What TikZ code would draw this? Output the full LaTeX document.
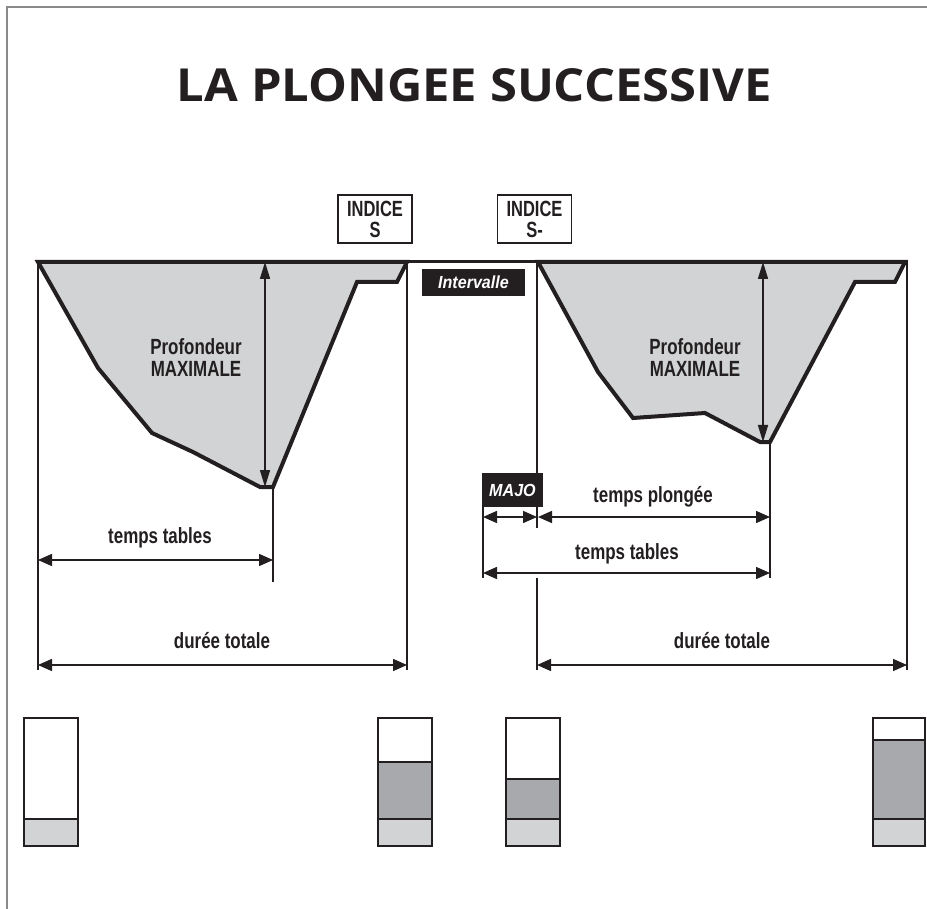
\documentclass[tikz,border=0pt]{standalone}
\usepackage{fontspec}
\usepackage{graphicx}
\usetikzlibrary{arrows.meta}
\setmainfont{Liberation Sans}
\newfontfamily\labfont[FakeStretch=0.77]{Liberation Sans}
\newfontfamily\idxfont[FakeStretch=0.75]{Liberation Sans}
\newfontfamily\boxfont[FakeStretch=0.92]{Liberation Sans}
\newfontfamily\titlefont{Open Sans}
\definecolor{ink}{HTML}{231F20}
\definecolor{lgray}{HTML}{D1D3D4}
\definecolor{dgray}{HTML}{A7A9AC}
\definecolor{framegray}{HTML}{8A8A8A}
\tikzset{
  profile/.style={draw=ink, line width=4pt, fill=lgray, line join=miter},
  surface/.style={draw=ink, line width=3pt},
  guide/.style={draw=ink, line width=1.6pt},
  dimarrow/.style={draw=ink, line width=1.5pt, {Triangle[length=14pt,width=12pt]}-{Triangle[length=14pt,width=12pt]}},
  vdimarrow/.style={draw=ink, line width=1.5pt, {Triangle[length=17pt,width=10pt]}-{Triangle[length=17pt,width=10pt]}},
  lab/.style={font=\labfont\bfseries\fontsize{22}{22}\selectfont, text=ink, inner sep=0pt},
  idxbox/.style={draw=ink, line width=1.5pt, fill=white, minimum width=74pt, minimum height=48pt, inner sep=0pt},
  idxtext/.style={font=\idxfont\bfseries\fontsize{22}{22}\selectfont, text=ink, inner sep=0pt, anchor=base},
  blackbox/.style={fill=ink, text=white, inner sep=0pt, font=\boxfont\bfseries\itshape\fontsize{17.5}{18}\selectfont},
  barline/.style={draw=ink, line width=2pt},
  frameline/.style={draw=framegray, line width=1.5pt}
}
\begin{document}
\begin{tikzpicture}[x=1pt,y=-1pt]
\useasboundingbox (0,0) rectangle (927,909);
% frame
\draw[frameline] (7,909) -- (7,7) -- (927,7);
% title
\node[inner sep=0pt, text=ink] (title) at (474.5,85) {\resizebox{595pt}{33pt}{\titlefont\bfseries LA PLONGEE SUCCESSIVE}};

% index boxes
\node[idxbox] (idxS) at (375,219) {};
\node[idxtext] (idxSa) at (375,217) {INDICE};
\node[idxtext] (idxSb) at (375,237.5) {S};
\node[idxbox] (idxSm) at (534.5,219) {};
\node[idxtext] (idxSma) at (534.5,217) {INDICE};
\node[idxtext] (idxSmb) at (534.5,237.5) {S-};

% profiles
\draw[profile] (38,262) -- (98,368) -- (152,433) -- (193,452) -- (260,487) -- (273,487)
  -- (357,282) -- (397,282) -- (407,262) -- cycle;
\draw[profile] (538,262) -- (598,372) -- (633,418) -- (705,413) -- (760,442) -- (770,442)
  -- (855,282) -- (895,282) -- (905,262) -- cycle;

% named points
\coordinate (s1) at (38,262);
\coordinate (e1) at (407,262);
\coordinate (s2) at (537,262);
\coordinate (e2) at (907,262);
\coordinate (surfR) at (908,262);
\coordinate (bot1) at (273,487);
\coordinate (bot2) at (770,442);
\coordinate (top1) at (265,262);
\coordinate (deep1) at (265,487);
\coordinate (top2) at (763,262);
\coordinate (deep2) at (763,442);

% surface line
\draw[surface] (s1) -- (surfR);

% guide lines dive 1
\draw[guide] (s1) -- (38,670);
\draw[guide] (e1) -- (407,670);
\draw[guide] (bot1) -- (273,582);
% guide lines dive 2
\draw[guide] (s2) -- (537,528);
\draw[guide] (537,578) -- (537,670);
\draw[guide] (e2) -- (907,670);
\draw[guide] (bot2) -- (770,578);
\draw[guide] (483,507) -- (483,578);

% depth arrows
\draw[vdimarrow] (top1) -- (deep1);
\draw[vdimarrow] (top2) -- (deep2);

% Profondeur labels
\node[lab, align=center] (pmax1) at (196,358) {Profondeur\\MAXIMALE};
\node[lab, align=center] (pmax2) at (695,358) {Profondeur\\MAXIMALE};

% interval and majoration boxes
\node[blackbox, minimum width=103pt, minimum height=27pt] (interv) at (473.5,282.5) {Intervalle};
\node[blackbox, minimum width=61pt, minimum height=34pt] (majo) at (512.5,490) {MAJO};

% dimension arrows dive 1
\coordinate (tt1a) at (38,560);
\coordinate (tt1b) at (273,560);
\coordinate (dt1a) at (38,665);
\coordinate (dt1b) at (407,665);
\draw[dimarrow] (tt1a) -- (tt1b);
\draw[dimarrow] (dt1a) -- (dt1b);
\node[lab, anchor=base] (ltt1) at (160,543) {temps tables};
\node[lab, anchor=base] (ldt1) at (222,648) {durée totale};

% dimension arrows dive 2
\coordinate (mja) at (483,517);
\coordinate (mjb) at (537,517);
\coordinate (tpa) at (538,517);
\coordinate (tpb) at (770,517);
\coordinate (tt2a) at (483,573);
\coordinate (tt2b) at (770,573);
\coordinate (dt2a) at (537,665);
\coordinate (dt2b) at (907,665);
\draw[dimarrow] (mja) -- (mjb);
\draw[dimarrow] (tpa) -- (tpb);
\draw[dimarrow] (tt2a) -- (tt2b);
\draw[dimarrow] (dt2a) -- (dt2b);
\node[lab, anchor=base] (ltp2) at (653,502) {temps plongée};
\node[lab, anchor=base] (ltt2) at (627,559) {temps tables};
\node[lab, anchor=base] (ldt2) at (722,648) {durée totale};

% bars
\fill[lgray] (24,819) rectangle (78,846);
\draw[barline] (24,718) rectangle (78,846);
\draw[barline] (24,819) -- (78,819);

\fill[dgray] (378,762) rectangle (432,819);
\fill[lgray] (378,819) rectangle (432,846);
\draw[barline] (378,718) rectangle (432,846);
\draw[barline] (378,762) -- (432,762);
\draw[barline] (378,819) -- (432,819);

\fill[dgray] (506,779) rectangle (560,819);
\fill[lgray] (506,819) rectangle (560,846);
\draw[barline] (506,718) rectangle (560,846);
\draw[barline] (506,779) -- (560,779);
\draw[barline] (506,819) -- (560,819);

\fill[dgray] (873,740) rectangle (925,819);
\fill[lgray] (873,819) rectangle (925,846);
\draw[barline] (873,718) rectangle (925,846);
\draw[barline] (873,740) -- (925,740);
\draw[barline] (873,819) -- (925,819);
\end{tikzpicture}
\end{document}
